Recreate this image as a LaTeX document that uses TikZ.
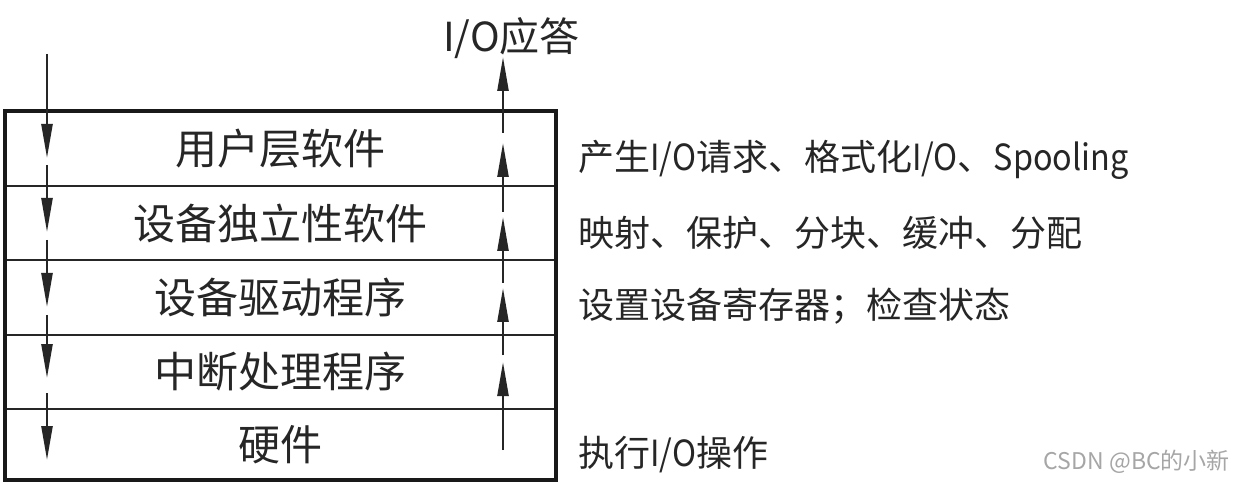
\documentclass[tikz,border=0pt]{standalone}
\usepackage{fontspec}
\usepackage{graphicx}
\setmainfont{Noto Sans CJK SC}
\newcommand\latn[1]{\scalebox{0.9}[1]{#1}}
\usetikzlibrary{arrows.meta}
\begin{document}
\begin{tikzpicture}[x=1pt,y=-1pt,
  layer/.style={minimum width=551pt, inner sep=0pt, outer sep=0pt, anchor=north west,
    font=\fontsize{42}{42}\selectfont, draw=black!85, line width=2pt, text=black!85},
  note/.style={anchor=west, inner sep=0pt, font=\fontsize{36}{36}\selectfont, text=black!85},
  seg/.style={line width=2.4pt, draw=black!85, -{Triangle[length=34pt,width=11pt]}},
  wmark/.style={font=\fontsize{23}{23}\selectfont, text=black!35, inner sep=0pt}
]
\useasboundingbox[fill=white] (0,0) rectangle (1237,486);
% layers
\node[layer, minimum height=75pt] (l1) at (5,111) {用户层软件};
\node[layer, minimum height=74pt] (l2) at (5,186) {设备独立性软件};
\node[layer, minimum height=75pt] (l3) at (5,260) {设备驱动程序};
\node[layer, minimum height=74pt] (l4) at (5,335) {中断处理程序};
\node[layer, minimum height=71pt] (l5) at (5,409) {硬件};
\draw[line width=3.5pt, black!90] (l1.north west) rectangle (l5.south east);
% notes
\node[note] (n1) at (578,160) {产生\latn{I/O}请求、格式化\latn{I/O}、\latn{Spooling}};
\node[note] (n2) at (578,233) {映射、保护、分块、缓冲、分配};
\node[note] (n3) at (578,306) {设置设备寄存器；检查状态};
\node[note] (n5) at (578,455) {执行\latn{I/O}操作};
\node[note, font=\fontsize{40}{40}\selectfont] (resp) at (443,38) {I/O应答};
% downward request arrows
\coordinate (a1) at (47,54);  \coordinate (b1) at (47,158);
\coordinate (a2) at (47,165); \coordinate (b2) at (47,232);
\coordinate (a3) at (47,240); \coordinate (b3) at (47,307);
\coordinate (a4) at (47,315); \coordinate (b4) at (47,378);
\coordinate (a5) at (47,393); \coordinate (b5) at (47,460);
\foreach \i in {1,...,5} \draw[seg] (a\i) -- (b\i);
% upward response arrows
\coordinate (c1) at (503,450); \coordinate (e1) at (503,362);
\coordinate (c2) at (503,355); \coordinate (e2) at (503,288);
\coordinate (c3) at (503,283); \coordinate (e3) at (503,217);
\coordinate (c4) at (503,212); \coordinate (e4) at (503,143);
\coordinate (c5) at (503,133); \coordinate (e5) at (503,57);
\foreach \i in {1,...,5} \draw[seg] (c\i) -- (e\i);
% watermark
\node[wmark, anchor=east] (wm) at (1230,462) {CSDN @BC的小新};
\end{tikzpicture}
\end{document}
